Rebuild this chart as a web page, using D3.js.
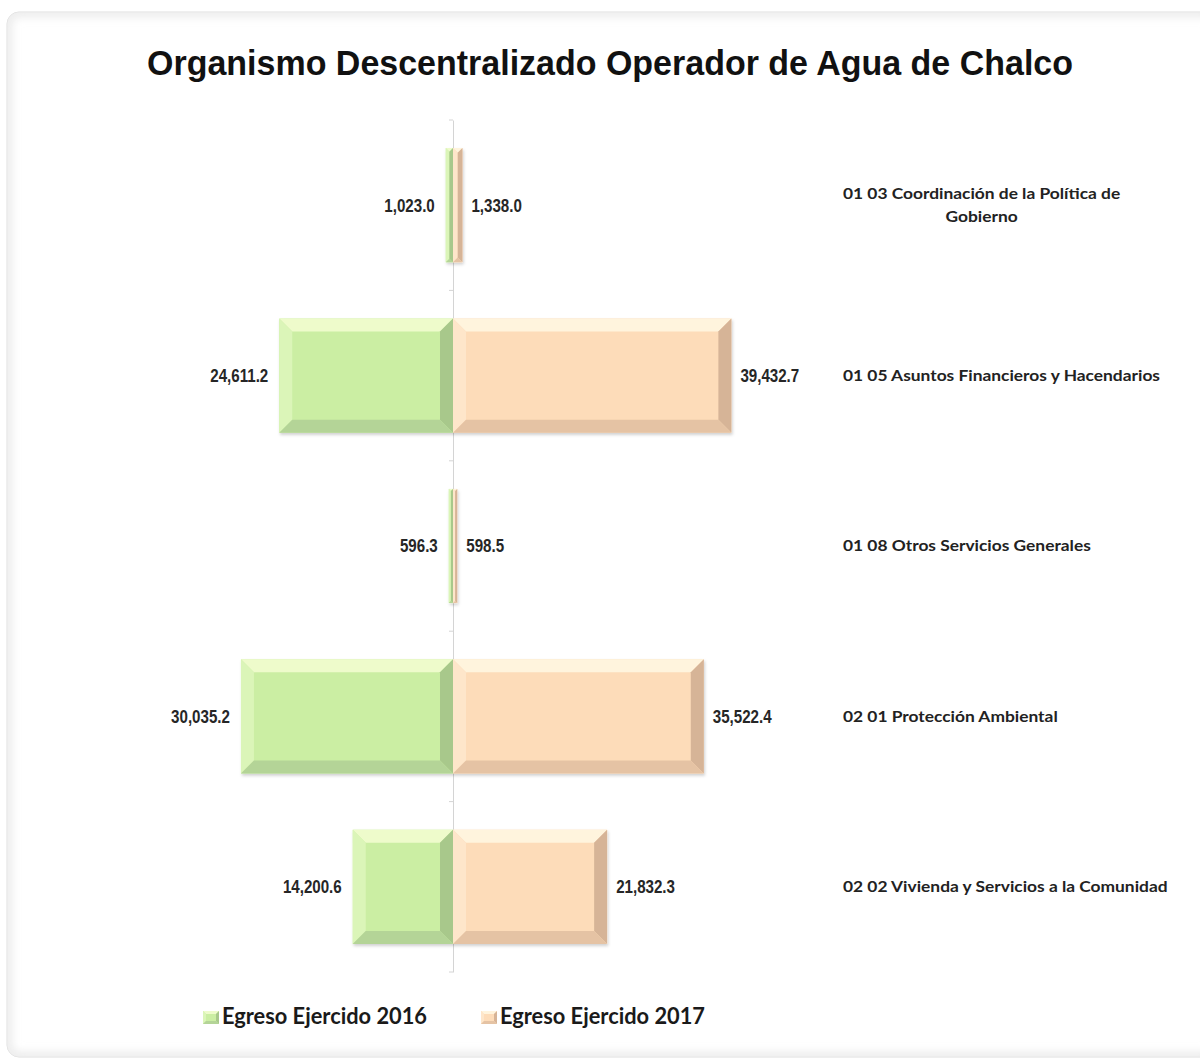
<!DOCTYPE html>
<html>
<head>
<meta charset="utf-8">
<script src="https://cdn.jsdelivr.net/npm/d3@7"></script>
<style>
    html, body { margin: 0; padding: 0; background: #fff; }
    svg { display: block; }
</style>
</head>
<body>
<svg id="chart" width="1200" height="1062"></svg>
<script>
const TITLE = 'Organismo Descentralizado Operador de Agua de Chalco';

const categories = [
    '01 03 Coordinación de la Política de Gobierno',
    '01 05 Asuntos Financieros y Hacendarios',
    '01 08 Otros Servicios Generales',
    '02 01 Protección Ambiental',
    '02 02 Vivienda y Servicios a la Comunidad'
];

const egreso2016 = [1023.0, 24611.2, 596.3, 30035.2, 14200.6];
const egreso2017 = [1338.0, 39432.7, 598.5, 35522.4, 21832.3];

const seriesNames = ['Egreso Ejercido 2016', 'Egreso Ejercido 2017'];

// ---- colores del bisel (cara, arriba, izquierda, derecha, abajo)
const palettes = [
    { face: '#cbeea3', top: '#eefbcb', left: '#dbf5b8', right: '#a8c88b', bottom: '#b4d497' },
    { face: '#fddcb9', top: '#fff4dd', left: '#fee6ca', right: '#d6b497', bottom: '#e5c3a4' }
];

const svg = d3.select('#chart');
const fmt = d3.format(',.1f');

const defs = svg.append('defs');
defs.append('filter').attr('id', 'soft')
    .attr('x', '-20%').attr('y', '-20%').attr('width', '140%').attr('height', '140%')
    .append('feGaussianBlur').attr('stdDeviation', 4);
defs.append('clipPath').attr('id', 'cardClip')
    .append('rect').attr('x', 7).attr('y', 12).attr('width', 1210).attr('height', 1045).attr('rx', 12);
const shadow = defs.append('filter').attr('id', 'barShadow')
    .attr('x', '-10%').attr('y', '-10%').attr('width', '130%').attr('height', '130%');
shadow.append('feDropShadow').attr('dx', 1).attr('dy', 2).attr('stdDeviation', 1.5)
    .attr('flood-color', '#000').attr('flood-opacity', 0.18);

// ---- Tarjeta
svg.append('rect')
    .attr('x', 7).attr('y', 12).attr('width', 1210).attr('height', 1045).attr('rx', 12)
    .attr('fill', '#fff').attr('stroke', '#dedede');
svg.append('rect')
    .attr('clip-path', 'url(#cardClip)')
    .attr('x', 7).attr('y', 12).attr('width', 1210).attr('height', 1045).attr('rx', 12)
    .attr('fill', 'none').attr('stroke', '#ebebeb').attr('stroke-width', 10)
    .attr('filter', 'url(#soft)');

// ---- ajusta el ancho del texto al de la imagen
function fitText(sel, targetWidth) {
    sel.attr('textLength', targetWidth).attr('lengthAdjust', 'spacingAndGlyphs');
}

// ---- Titulo
const title = svg.append('text')
    .attr('x', 610).attr('y', 75)
    .attr('text-anchor', 'middle')
    .attr('font-family', 'Liberation Sans, Arial, sans-serif')
    .attr('font-weight', 'bold').attr('font-size', '35px')
    .attr('fill', '#111')
    .text(TITLE);
fitText(title, 926);

// ---- Escalas
const x = d3.scaleLinear()
    .domain([-50000, 50000])
    .range([453 - 353, 453 + 353]);

const y = d3.scaleBand()
    .domain(categories)
    .range([120, 972])
    .paddingInner(0.33)
    .paddingOuter(0.165);

// ---- Eje vertical (categorias) en cero
const axisG = svg.append('g')
    .attr('transform', `translate(${x(0)},0)`)
    .call(d3.axisLeft(y).tickSize(0).tickFormat(''))
    .call(g => g.select('.domain').attr('stroke', '#d4d4d4'));
const boundaries = categories.map(c => y(c) - y.step() * y.paddingInner() / 2).concat([y.range()[1]]);
axisG.selectAll('.bound')
    .data(boundaries).join('line')
    .attr('class', 'bound')
    .attr('x1', -4).attr('x2', 0)
    .attr('y1', d => d).attr('y2', d => d)
    .attr('stroke', '#d4d4d4');

// ---- Barras biseladas
function bevelBar(g, x0, y0, w, h, pal, b0) {
    const b = Math.min(b0, w / 2, h / 2);
    const x1 = x0 + w, y1 = y0 + h;
    g.append('rect').attr('x', x0).attr('y', y0).attr('width', w).attr('height', h)
        .attr('fill', pal.face);
    const polys = [
        { pts: [[x0, y0], [x1, y0], [x1 - b, y0 + b], [x0 + b, y0 + b]], fill: pal.top },
        { pts: [[x0, y0], [x0 + b, y0 + b], [x0 + b, y1 - b], [x0, y1]], fill: pal.left },
        { pts: [[x1, y0], [x1, y1], [x1 - b, y1 - b], [x1 - b, y0 + b]], fill: pal.right },
        { pts: [[x0, y1], [x0 + b, y1 - b], [x1 - b, y1 - b], [x1, y1]], fill: pal.bottom }
    ];
    g.selectAll(null).data(polys).join('polygon')
        .attr('points', d => d.pts.map(p => p.join(',')).join(' '))
        .attr('fill', d => d.fill);
}

const barsG = svg.append('g').attr('filter', 'url(#barShadow)');
categories.forEach((c, i) => {
    const v16 = egreso2016[i], v17 = egreso2017[i];
    bevelBar(barsG.append('g'), x(-v16), y(c), x(0) - x(-v16), y.bandwidth(), palettes[0], 13);
    bevelBar(barsG.append('g'), x(0), y(c), x(v17) - x(0), y.bandwidth(), palettes[1], 13);
});

// ---- Etiquetas de valores
const valueFont = 'Liberation Sans Narrow, Arial Narrow, Liberation Sans, Arial, sans-serif';
const probe = svg.append('text')
    .attr('font-family', valueFont).attr('font-weight', 'bold').attr('font-size', '18px')
    .text(fmt(24611.2));
const valueRatio = 58 / probe.node().getComputedTextLength();
probe.remove();

const labelsData = [];
categories.forEach((c, i) => {
    labelsData.push({ x: x(-egreso2016[i]) - 11, y: y(c) + y.bandwidth() / 2, anchor: 'end', v: egreso2016[i] });
    labelsData.push({ x: x(egreso2017[i]) + 9, y: y(c) + y.bandwidth() / 2, anchor: 'start', v: egreso2017[i] });
});
svg.append('g').selectAll('text')
    .data(labelsData).join('text')
    .attr('x', d => d.x).attr('y', d => d.y).attr('dy', '0.36em')
    .attr('text-anchor', d => d.anchor)
    .attr('font-family', valueFont).attr('font-weight', 'bold').attr('font-size', '18px')
    .attr('fill', '#262626')
    .text(d => fmt(d.v))
    .each(function () {
        fitText(d3.select(this), this.getComputedTextLength() * valueRatio);
    });

// ---- Etiquetas de categorias (a la derecha)
const catFont = 'Lato, Open Sans, sans-serif';
const catX = 843, catSize = 15, lineH = 23;
const probe2 = svg.append('text')
    .attr('font-family', catFont).attr('font-weight', 'bold').attr('font-size', catSize + 'px')
    .text(categories[1]);
const catRatio = 317 / probe2.node().getComputedTextLength();
probe2.remove();

function measure(s) {
    const t = svg.append('text')
        .attr('font-family', catFont).attr('font-weight', 'bold').attr('font-size', catSize + 'px')
        .text(s);
    const w = t.node().getComputedTextLength() * catRatio;
    t.remove();
    return w;
}

const catG = svg.append('g');
categories.forEach(c => {
    const words = c.split(' ');
    const lines = [];
    let cur = '';
    words.forEach(wd => {
        const test = cur ? cur + ' ' + wd : wd;
        if (measure(test) > 335 && cur) { lines.push(cur); cur = wd; } else cur = test;
    });
    lines.push(cur);
    const cy = y(c) + y.bandwidth() / 2;
    const w0 = measure(lines[0]);
    lines.forEach((ln, k) => {
        const ly = cy + (k - (lines.length - 1) / 2) * lineH;
        const t = catG.append('text')
            .attr('x', lines.length > 1 ? catX + w0 / 2 : catX)
            .attr('y', ly).attr('dy', '0.35em')
            .attr('text-anchor', lines.length > 1 ? 'middle' : 'start')
            .attr('font-family', catFont).attr('font-weight', 'bold').attr('font-size', catSize + 'px')
            .attr('fill', '#222')
            .text(ln);
        fitText(t, measure(ln));
    });
});

// ---- Leyenda
const legendX = [203, 481];
const legend = svg.append('g').selectAll('g')
    .data(seriesNames).join('g')
    .attr('transform', (d, i) => `translate(${legendX[i]}, 1010)`);
legend.each(function (d, i) {
    bevelBar(d3.select(this), 0, 1, 16, 13, palettes[i], 3);
});
legend.append('text')
    .attr('x', 19).attr('y', 14)
    .attr('font-family', catFont).attr('font-weight', 'bold').attr('font-size', '22px')
    .attr('fill', '#1a1a1a')
    .text(d => d)
    .each(function () { fitText(d3.select(this), 205); });
</script>
</body>
</html>
